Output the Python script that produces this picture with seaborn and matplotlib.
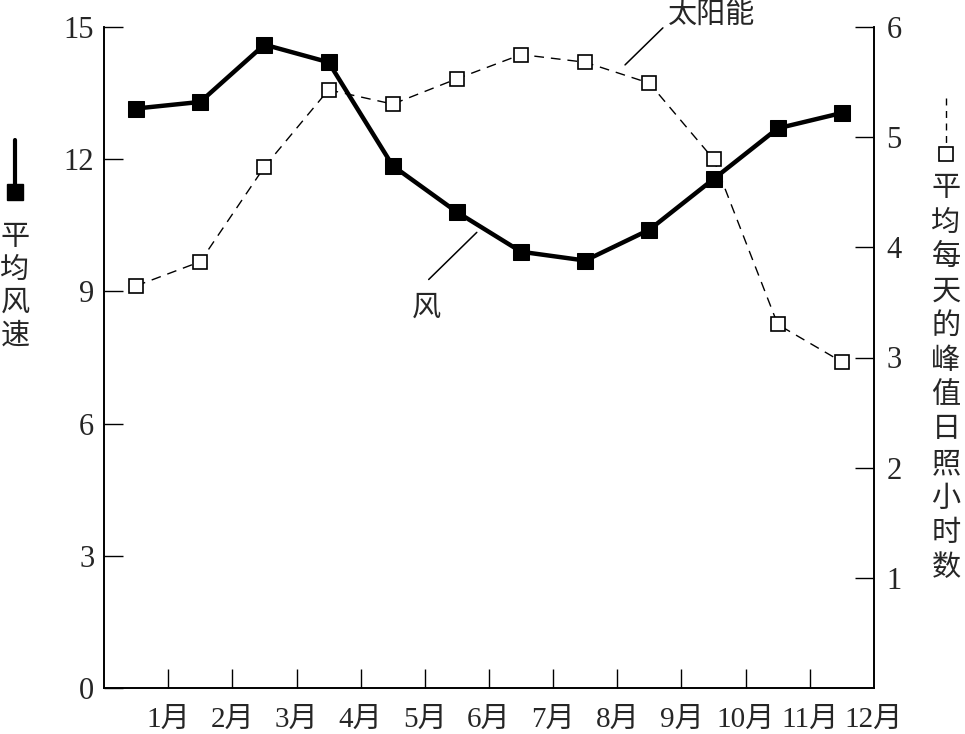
import matplotlib
matplotlib.use("Agg")
import matplotlib.pyplot as plt
from matplotlib.lines import Line2D
import seaborn as sns
import pandas as pd

months = ["1月", "2月", "3月", "4月", "5月", "6月", "7月", "8月", "9月", "10月", "11月", "12月"]
wind = [13.15, 13.3, 14.6, 14.2, 11.85, 10.8, 9.9, 9.7, 10.4, 11.55, 12.7, 13.05]
solar = [3.65, 3.87, 4.73, 5.43, 5.3, 5.53, 5.75, 5.68, 5.49, 4.8, 3.3, 2.96]
left_ticks = [0, 3, 6, 9, 12, 15]
right_ticks = [1, 2, 3, 4, 5, 6]

sns.set_style("white")
num_font = ["Liberation Serif", "Noto Sans CJK SC"]
cjk_font = ["Noto Sans CJK SC", "DejaVu Sans"]

df = pd.DataFrame({"pos": [i + 0.5 for i in range(len(months))], "wind": wind, "solar": solar})

fig = plt.figure(figsize=(9.65, 7.34), dpi=100)
ax = fig.add_axes([104 / 965, 1 - 688 / 734, (874 - 104) / 965, (688 - 27) / 734])
ax2 = ax.twinx()

sns.lineplot(data=df, x="pos", y="wind", ax=ax, color="black", linewidth=3.2,
             marker="s", markersize=11, markerfacecolor="black", markeredgecolor="black")
sns.lineplot(data=df, x="pos", y="solar", ax=ax2, color="black", linewidth=1.0,
             linestyle=(0, (7, 5)), marker="s", markersize=10,
             markerfacecolor="white", markeredgecolor="black", markeredgewidth=1.2)

ax.set_xlim(0, 12)
ax.set_ylim(0, 15)
ax2.set_ylim(0, 6)

ax.set_xticks(range(1, 12))
ax.set_xticklabels([])
ax.tick_params(axis="x", direction="in", length=14, width=1, color="black", bottom=True)
for i, m in enumerate(months):
    ax.text(i + 1, -0.42, m, ha="center", va="top", fontsize=21, family=num_font,
            transform=ax.transData)

ax.set_yticks(left_ticks)
ax.set_yticklabels([str(t) for t in left_ticks], fontsize=22, family=num_font)
ax.tick_params(axis="y", direction="in", length=14, width=1, color="black", left=True, pad=7)

ax2.set_yticks(right_ticks)
ax2.set_yticklabels([str(t) for t in right_ticks], fontsize=22, family=num_font)
ax2.tick_params(axis="y", direction="in", length=14, width=1, color="black", right=True, pad=9)

for a in (ax, ax2):
    a.set_xlabel("")
    a.set_ylabel("")
    for s in a.spines.values():
        s.set_color("black")
        s.set_linewidth(1.2)
ax2.spines["top"].set_visible(False)
ax.spines["top"].set_visible(False)

# annotations (leader lines + labels)
ax.annotate("", xy=(8.12, 14.14), xytext=(8.71, 14.98), annotation_clip=False,
            arrowprops=dict(arrowstyle="-", color="black", lw=1.1, shrinkA=0, shrinkB=0))
ax.text(9.47, 15.25, "太阳能", ha="center", va="center", fontsize=21, family=cjk_font,
        clip_on=False)
ax.annotate("", xy=(5.81, 10.34), xytext=(5.06, 9.27), annotation_clip=False,
            arrowprops=dict(arrowstyle="-", color="black", lw=1.1, shrinkA=0, shrinkB=0))
ax.text(5.03, 8.62, "风", ha="center", va="center", fontsize=21, family=cjk_font)

# left axis label with glyph
W, H = 965, 734
fig.add_artist(Line2D([15 / W, 15 / W], [1 - 140 / H, 1 - 192 / H], color="black", lw=3,
                      marker="s", markersize=12, markevery=[1], transform=fig.transFigure))
for i, ch in enumerate("平均风速"):
    fig.text(15 / W, 1 - (237 + 33 * i) / H, ch, ha="center", va="center", fontsize=21,
             family=cjk_font)

# right axis label with glyph
fig.add_artist(Line2D([946 / W, 946 / W], [1 - 98 / H, 1 - 154 / H], color="black", lw=1.0,
                      linestyle=(0, (5, 4)), marker="s", markersize=10, markevery=[1],
                      markerfacecolor="white", markeredgecolor="black", markeredgewidth=1.2,
                      transform=fig.transFigure))
for i, ch in enumerate("平均每天的峰值日照小时数"):
    fig.text(946 / W, 1 - (188 + 34.5 * i) / H, ch, ha="center", va="center", fontsize=21,
             family=cjk_font)

fig.savefig("out.png", dpi=100)
